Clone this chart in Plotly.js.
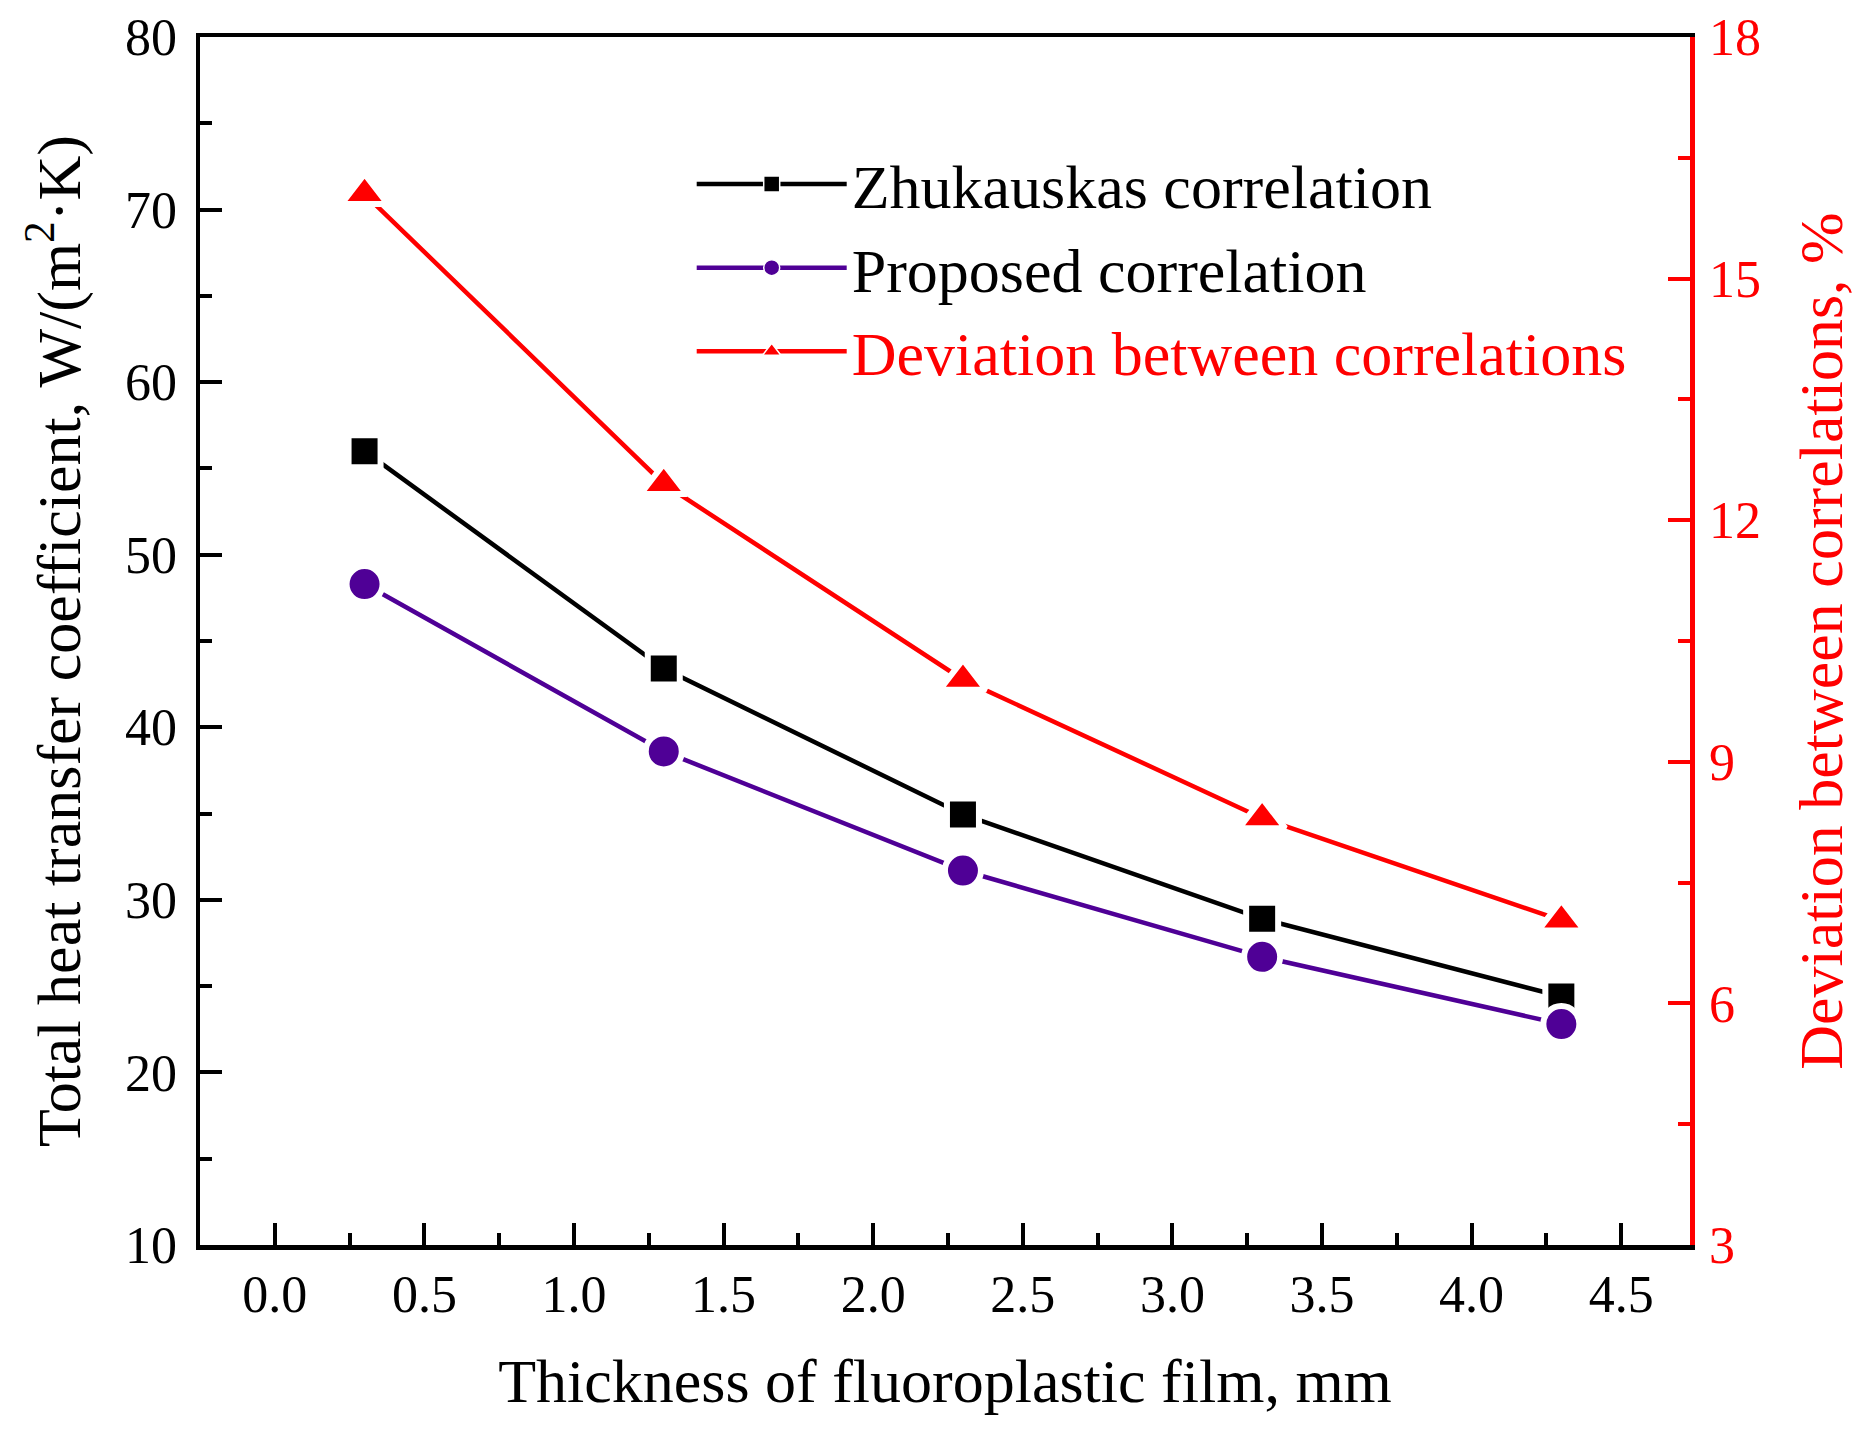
<!DOCTYPE html>
<html>
<head>
<meta charset="utf-8">
<script src="https://cdn.plot.ly/plotly-3.0.1.min.js"></script>
<style>
  html, body { margin: 0; padding: 0; background: #fff; }
  #plot { width: 1871px; height: 1435px; }
</style>
</head>
<body>
<div id="plot"></div>
<script>
// film thickness, mm
const thickness = [0.3, 1.3, 2.3, 3.3, 4.3];

// total heat transfer coefficient, W/(m2.K)
const zhukauskas = [56.0, 43.4, 34.95, 28.9, 24.4];
const proposed = [48.3, 38.6, 31.7, 26.7, 22.8];

// deviation between the two, %
const deviation = [16.05, 12.45, 10.02, 8.3, 7.03];

const names = ['Zhukauskas correlation', 'Proposed correlation', 'Deviation between correlations'];

const serif = 'Liberation Serif, Times New Roman, serif';
const red = '#ff0000';
const purple = '#4f0096';

// white outline on markers leaves the little gap that Origin draws
const gap = { color: '#ffffff', width: 6 };

const traceZ = {
    x: thickness,
    y: zhukauskas,
    name: names[0],
    showlegend: false,
    type: 'scatter',
    mode: 'lines+markers',
    line: { color: '#000000', width: 4.5 },
    marker: { symbol: 'square', size: 32, color: '#000000', line: gap }
};

const traceP = {
    x: thickness,
    y: proposed,
    name: names[1],
    showlegend: false,
    type: 'scatter',
    mode: 'lines+markers',
    line: { color: purple, width: 4.5 },
    marker: { symbol: 'circle', size: 36, color: purple, line: gap }
};

const traceD = {
    x: thickness,
    y: deviation,
    yaxis: 'y2',
    name: names[2],
    showlegend: false,
    type: 'scatter',
    mode: 'lines+markers',
    line: { color: red, width: 4.5 },
    marker: { symbol: 'triangle-up', size: 40, color: red, line: gap }
};

// legend entries only (plotly caps legend marker size, so thinner gap here)
function legendEntry(label, color, symbol, axis) {
    return {
        x: [null],
        y: [null],
        yaxis: axis,
        name: label,
        type: 'scatter',
        mode: 'lines+markers',
        hoverinfo: 'skip',
        line: { color: color, width: 4.5 },
        marker: { symbol: symbol, size: 16, color: color, line: { color: '#ffffff', width: 1.5 } }
    };
}

const legendZ = legendEntry(names[0], '#000000', 'square', 'y');
const legendP = legendEntry(names[1], purple, 'circle', 'y');
const legendD = legendEntry('<span style="color:#ff0000">' + names[2] + '</span>', red, 'triangle-up', 'y2');

const layout = {
    width: 1871,
    height: 1435,
    paper_bgcolor: '#ffffff',
    plot_bgcolor: '#ffffff',
    margin: { l: 200, r: 181, t: 37, b: 190 },
    font: { family: serif, size: 52, color: '#000000' },
    showlegend: true,
    legend: {
        x: 0.33,
        y: 0.917,
        xanchor: 'left',
        yanchor: 'top',
        bgcolor: 'rgba(0,0,0,0)',
        font: { family: serif, size: 62, color: '#000000' },
        itemwidth: 150,
        tracegroupgap: 0
    },
    xaxis: {
        range: [-0.25, 4.73],
        tickvals: [0, 0.5, 1, 1.5, 2, 2.5, 3, 3.5, 4, 4.5],
        ticktext: ['0.0', '0.5', '1.0', '1.5', '2.0', '2.5', '3.0', '3.5', '4.0', '4.5'],
        ticks: 'inside',
        ticklen: 22,
        tickwidth: 4,
        tickcolor: '#000000',
        minor: { dtick: 0.25, tick0: 0, ticks: 'inside', ticklen: 12, tickwidth: 4, tickcolor: '#000000' },
        showline: true,
        linecolor: '#000000',
        linewidth: 4.5,
        mirror: true,
        showgrid: false,
        zeroline: false,
        ticklabelstandoff: 0,
        tickfont: { family: serif, size: 52 },
        title: { text: 'Thickness of fluoroplastic film, mm', font: { family: serif, size: 62 }, standoff: 38 }
    },
    yaxis: {
        range: [10, 80],
        dtick: 10,
        tick0: 10,
        ticks: 'inside',
        ticklen: 22,
        tickwidth: 4,
        tickcolor: '#000000',
        minor: { dtick: 5, tick0: 10, ticks: 'inside', ticklen: 12, tickwidth: 4, tickcolor: '#000000' },
        showline: true,
        linecolor: '#000000',
        linewidth: 4.5,
        showgrid: false,
        zeroline: false,
        ticklabelstandoff: 8,
        tickfont: { family: serif, size: 52 },
        title: { text: 'Total heat transfer coefficient, W/(m<sup>2</sup>·K)', font: { family: serif, size: 62 }, standoff: 26 }
    },
    yaxis2: {
        overlaying: 'y',
        side: 'right',
        range: [3, 18],
        dtick: 3,
        tick0: 3,
        ticks: 'inside',
        ticklen: 22,
        tickwidth: 4,
        tickcolor: red,
        minor: { dtick: 1.5, tick0: 3, ticks: 'inside', ticklen: 12, tickwidth: 4, tickcolor: red },
        showline: true,
        linecolor: red,
        linewidth: 4.5,
        showgrid: false,
        zeroline: false,
        ticklabelstandoff: 4,
        tickfont: { family: serif, size: 52, color: red },
        title: { text: 'Deviation between correlations, %', font: { family: serif, size: 62, color: red }, standoff: 40 }
    }
};

Plotly.newPlot('plot', [traceZ, traceP, traceD, legendZ, legendP, legendD], layout, { displayModeBar: false, staticPlot: true });
</script>
</body>
</html>
